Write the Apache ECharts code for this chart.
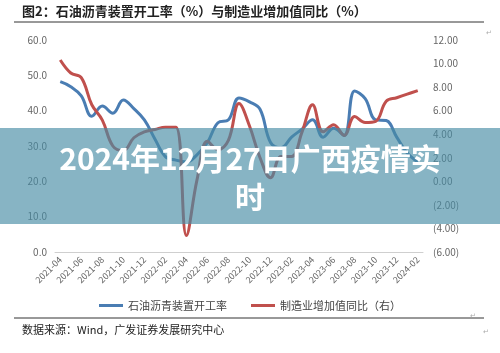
<!DOCTYPE html>
<html>
<head>
<meta charset="utf-8">
<script src="https://cdn.jsdelivr.net/npm/echarts@6/dist/echarts.min.js"></script>
<style>
    html, body { margin: 0; padding: 0; background: #ffffff; }
    #chart { width: 500px; height: 353px; }
</style>
</head>
<body>
<div id="chart"></div>
<script>
    // 月份
    var months = ['2021-04','2021-05','2021-06','2021-07','2021-08','2021-09','2021-10','2021-11','2021-12',
        '2022-01','2022-02','2022-03','2022-04','2022-05','2022-06','2022-07','2022-08','2022-09','2022-10','2022-11','2022-12',
        '2023-01','2023-02','2023-03','2023-04','2023-05','2023-06','2023-07','2023-08','2023-09','2023-10','2023-11','2023-12',
        '2024-01','2024-02'];
    // 石油沥青装置开工率（左轴）
    var asphaltRate = [48.2, 46.8, 44.2, 38.4, 41.3, 39.3, 43.0, 40.6, 37.4,
        32.0, 27.0, 26.0, 25.5, 27.5, 31.0, 36.6, 37.4, 43.6, 42.5, 40.4, 31.0,
        29.5, 32.5, 34.8, 37.4, 32.5, 35.0, 33.0, 45.6, 43.4, 37.4, 37.2, 32.5,
        28.0, 25.5];
    // 制造业增加值同比（右轴）
    var mfgYoy = [10.3, 9.2, 8.8, 6.5, 5.2, 3.0, 2.6, 3.7, 4.2,
        4.4, 4.6, 4.6, -4.6, 0.1, 3.4, 2.7, 3.5, 6.6, 4.7, 2.0, 0.3,
        2.1, 2.1, 4.2, 6.5, 4.2, 4.8, 3.9, 5.5, 5.0, 5.1, 6.8, 7.1,
        7.4, 7.7];
    var seriesNames = ['石油沥青装置开工率', '制造业增加值同比（右）'];

    var chart = echarts.init(document.getElementById('chart'));
    var font = '"Noto Sans CJK SC", "Noto Sans", sans-serif';
    var option = {
        animation: false,
        textStyle: { fontFamily: font },
        grid: { left: 55, right: 77, top: 40, bottom: 101 },
        legend: {
            top: 295,
            left: 'center',
            itemGap: 24,
            itemWidth: 24,
            itemHeight: 3,
            icon: 'rect',
            textStyle: { fontSize: 11, color: '#444', fontFamily: font },
            data: seriesNames
        },
        xAxis: {
            type: 'category',
            data: months,
            boundaryGap: true,
            axisLine: { lineStyle: { color: '#cfcfcf' } },
            axisTick: { lineStyle: { color: '#cfcfcf' }, length: 4 },
            axisLabel: { interval: 1, rotate: 45, fontSize: 9, color: '#666', margin: 6 }
        },
        yAxis: [
            {
                type: 'value',
                min: 0, max: 60, interval: 10,
                splitLine: { show: false },
                axisLine: { show: false },
                axisTick: { show: false },
                axisLabel: {
                    fontSize: 10, color: '#666', margin: 8,
                    formatter: function (v) { return v.toFixed(1); }
                }
            },
            {
                type: 'value',
                min: -6, max: 12, interval: 2,
                splitLine: { show: false },
                axisLine: { show: false },
                axisTick: { show: false },
                axisLabel: {
                    fontSize: 10, color: '#666', margin: 10,
                    formatter: function (v) {
                        return v < 0 ? '(' + Math.abs(v).toFixed(2) + ')' : v.toFixed(2);
                    }
                }
            }
        ],
        series: [
            {
                name: seriesNames[0],
                type: 'line',
                yAxisIndex: 0,
                data: asphaltRate,
                smooth: 0.4,
                showSymbol: false,
                lineStyle: { color: '#4a7db3', width: 3 },
                itemStyle: { color: '#4a7db3' }
            },
            {
                name: seriesNames[1],
                type: 'line',
                yAxisIndex: 1,
                data: mfgYoy,
                smooth: 0.4,
                showSymbol: false,
                lineStyle: { color: '#c0504d', width: 3 },
                itemStyle: { color: '#c0504d' }
            }
        ],
        graphic: [
            {
                type: 'text', left: 22, top: 5, z: 10,
                style: { text: '图2：石油沥青装置开工率（%）与制造业增加值同比（%）', fill: '#222', font: 'bold 13px "Noto Sans CJK SC"' }
            },
            {
                type: 'line', z: 10,
                shape: { x1: 14, y1: 22, x2: 484, y2: 22 },
                style: { stroke: '#333', lineWidth: 1 }
            },
            {
                type: 'line', z: 10,
                shape: { x1: 14, y1: 318, x2: 484, y2: 318 },
                style: { stroke: '#333', lineWidth: 1 }
            },
            {
                type: 'text', left: 22, top: 324, z: 10,
                style: { text: '数据来源：Wind，广发证券发展研究中心', fill: '#222', font: '11px "Noto Sans CJK SC"' }
            },
            {
                type: 'text', left: 486, top: 30, z: 10,
                style: { text: '↵', fill: '#aaa', font: '7px "DejaVu Sans"' }
            },
            {
                type: 'text', left: 470, top: 313, z: 10,
                style: { text: '↵', fill: '#aaa', font: '7px "DejaVu Sans"' }
            },
            {
                type: 'text', left: 483, top: 329, z: 10,
                style: { text: '↵', fill: '#aaa', font: '7px "DejaVu Sans"' }
            },
            {
                type: 'rect', z: 50,
                shape: { x: 0, y: 128, width: 500, height: 96 },
                style: { fill: 'rgba(70,140,165,0.65)' }
            },
            {
                type: 'text', z: 60,
                x: 250, y: 159,
                style: {
                    text: '2024年12月27日广西疫情实',
                    fill: '#ffffff',
                    font: 'bold 30px "Noto Sans CJK SC"',
                    align: 'center',
                    verticalAlign: 'middle'
                }
            },
            {
                type: 'text', z: 60,
                x: 250, y: 197,
                style: {
                    text: '时',
                    fill: '#ffffff',
                    font: 'bold 30px "Noto Sans CJK SC"',
                    align: 'center',
                    verticalAlign: 'middle'
                }
            }
        ]
    };
    chart.setOption(option);
</script>
</body>
</html>
